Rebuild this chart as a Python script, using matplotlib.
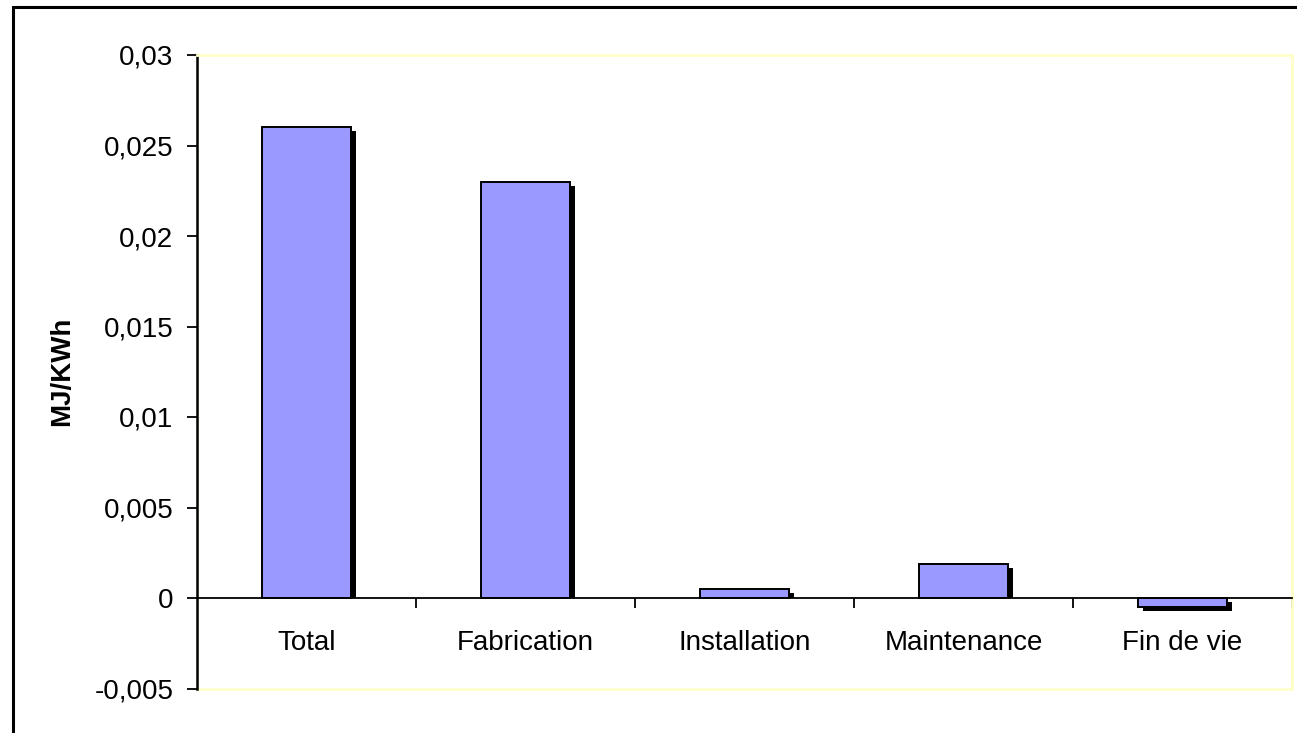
import matplotlib
matplotlib.use("Agg")
import matplotlib.pyplot as plt
import matplotlib.transforms as mtransforms
from matplotlib.patches import Rectangle
import numpy as np

categories = ["Total", "Fabrication", "Installation", "Maintenance", "Fin de vie"]
values = [0.026, 0.023, 0.0005, 0.0019, -0.0005]
yticks = [-0.005, 0, 0.005, 0.01, 0.015, 0.02, 0.025, 0.03]
ytick_labels = ["-0,005", "0", "0,005", "0,01", "0,015", "0,02", "0,025", "0,03"]

plt.rcParams["font.family"] = ["Liberation Sans", "DejaVu Sans"]

fig = plt.figure(figsize=(12.97, 7.33), dpi=100)
ax = fig.add_axes([197 / 1297, 1 - 688.5 / 733, 1095 / 1297, 633.5 / 733])

x = np.arange(len(categories)) + 0.5
bar_w = 0.41

ax.set_xlim(0, len(categories))
ax.set_ylim(-0.005, 0.03)

# shadow: same bars shifted a few pixels right/down;
# for positive bars the shadow stops at the zero line
shadow_tr = mtransforms.offset_copy(ax.transData, fig=fig, x=5, y=-4, units="dots")
shadows = ax.bar(x, values, width=bar_w, color="black", linewidth=0,
                 transform=shadow_tr, zorder=2)
above_zero = Rectangle((0, 0), len(categories), 0.03, transform=ax.transData)
for patch, v in zip(shadows, values):
    if v > 0:
        patch.set_clip_path(above_zero)
ax.bar(x, values, width=bar_w, color="#9999FF", edgecolor="black", linewidth=1.4, zorder=3)

ax.set_yticks(yticks)
ax.set_yticklabels(ytick_labels)
ax.tick_params(axis="y", direction="out", length=7, width=1.3, pad=10, labelsize=20)

ax.set_xticks(x)
ax.set_xticklabels(categories)
ax.set_xticks(np.arange(1, len(categories) + 1), minor=True)
ax.tick_params(axis="x", which="major", length=0, pad=23, labelsize=20)
ax.tick_params(axis="x", which="minor", direction="out", length=7, width=1.3)

ax.spines["bottom"].set_position(("data", 0))
ax.spines["bottom"].set_linewidth(1.3)
ax.spines["bottom"].set_zorder(4)
ax.spines["left"].set_linewidth(1.8)
for s in ["top", "right"]:
    ax.spines[s].set_color("#FFFFCC")
    ax.spines[s].set_linewidth(2)
ax.add_patch(Rectangle((0, 0), 1, 1, transform=ax.transAxes, fill=False,
                       edgecolor="#FFFFCC", linewidth=2, zorder=0, clip_on=False))

ax.set_ylabel("MJ/KWh", fontsize=20, fontweight="bold", labelpad=14)

# outer chart border (left and top visible)
fig.add_artist(Rectangle((13 / 1297, -0.05), 1.2, 1 - 7 / 733 + 0.05,
                         transform=fig.transFigure, fill=False,
                         edgecolor="black", linewidth=2.2))

fig.savefig("out.png", dpi=100)
